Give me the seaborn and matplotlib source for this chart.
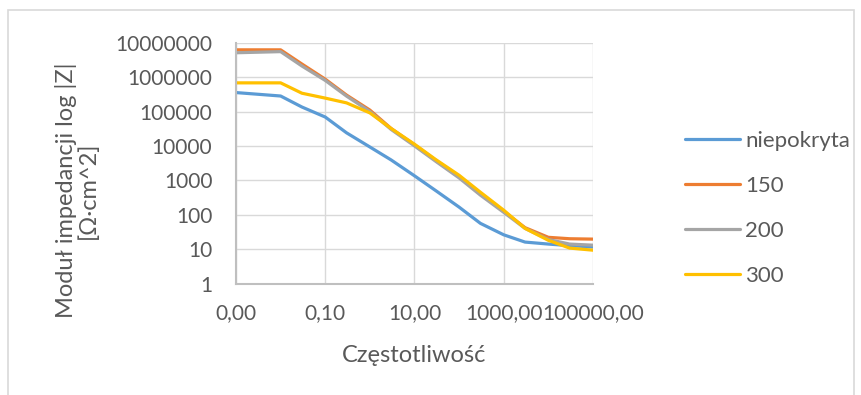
import matplotlib
matplotlib.use("Agg")
import matplotlib.pyplot as plt
from matplotlib.patches import Rectangle
from matplotlib.ticker import FixedLocator, FuncFormatter, NullLocator
import numpy as np
import pandas as pd
import seaborn as sns

# Impedance spectra: frequency [Hz] and |Z| [Ohm*cm^2] for each coating
freq = [0.001, 0.01, 0.03, 0.1, 0.3, 1, 3, 10, 30, 100, 300, 1000, 3000,
        10000, 30000, 100000]
z_niepokryta = [355000, 282000, 135000, 69000, 24000, 9300, 3900, 1350, 500,
                166, 56, 26, 16, 14, 12.6, 11.5]
z_150 = [6200000, 6200000, 2400000, 870000, 300000, 110000, 32000, 10700,
         3800, 1260, 400, 126, 42, 22, 20, 19.5]
z_200 = [5100000, 5500000, 2100000, 800000, 280000, 100000, 30000, 10000,
         3550, 1170, 370, 117, 40, 19, 14, 13]
z_300 = [680000, 680000, 340000, 245000, 178000, 91000, 32000, 11200, 4000,
         1400, 450, 135, 40, 18, 10.7, 9.3]

series_names = ["niepokryta", "150", "200", "300"]
series_values = [z_niepokryta, z_150, z_200, z_300]
colors = ["#5B9BD5", "#ED7D31", "#A5A5A5", "#FFC000"]

x_ticks = [0.001, 0.1, 10, 1000, 100000]
y_ticks = [1, 10, 100, 1000, 10000, 100000, 1000000, 10000000]

df = pd.concat(
    [pd.DataFrame({"f": freq, "z": vals, "seria": name})
     for name, vals in zip(series_names, series_values)],
    ignore_index=True,
)

sns.set_style("white")
plt.rcParams["font.family"] = ["Lato", "DejaVu Sans"]
text_color = "#595959"
tick_fs = 15
title_fs = 17
legend_fs = 16

fig = plt.figure(figsize=(8.62, 3.95), dpi=100)
ax = fig.add_axes([236 / 862, 1 - 283.5 / 395, (593 - 236) / 862,
                   (283.5 - 42.7) / 395])

# outer chart frame
fig.patches.append(Rectangle((8 / 862, -0.05), (854 - 8) / 862, 1 - 10 / 395 + 0.05,
                             transform=fig.transFigure, fill=False,
                             edgecolor="#d9d9d9", linewidth=1.2, zorder=0))

sns.lineplot(data=df, x="f", y="z", hue="seria", palette=colors,
             hue_order=series_names, linewidth=2.3, ax=ax, legend=False,
             sort=False)

ax.set_xscale("log")
ax.set_yscale("log")
ax.set_xlim(0.001, 100000)
ax.set_ylim(1, 10000000)

ax.xaxis.set_major_locator(FixedLocator(x_ticks))
ax.xaxis.set_minor_locator(NullLocator())
ax.yaxis.set_major_locator(FixedLocator(y_ticks))
ax.yaxis.set_minor_locator(NullLocator())
ax.xaxis.set_major_formatter(FuncFormatter(lambda v, p: f"{v:.2f}".replace(".", ",")))
ax.yaxis.set_major_formatter(FuncFormatter(lambda v, p: f"{int(round(v))}"))

ax.grid(True, which="major", color="#d9d9d9", linewidth=1.0)
ax.set_axisbelow(True)
for side in ["top", "right"]:
    ax.spines[side].set_visible(False)
for side in ["left", "bottom"]:
    ax.spines[side].set_color("#bfbfbf")
    ax.spines[side].set_linewidth(1.5)

ax.tick_params(axis="both", length=0, labelsize=tick_fs, colors=text_color)
ax.tick_params(axis="y", pad=17)
ax.tick_params(axis="x", pad=14)
ax.set_xlabel("")
ax.set_ylabel("")

fig.text(77 / 862, 1 - 190 / 395, "Moduł impedancji log |Z|\n[Ω·cm^2]",
         rotation=90, ha="center", va="center", fontsize=title_fs,
         color=text_color, linespacing=1.05)
fig.text(414 / 862, 1 - 355 / 395, "Częstotliwość", ha="center",
         va="center", fontsize=title_fs, color=text_color)

handles = [plt.Line2D([], [], color=c, linewidth=2.3) for c in colors]
leg = fig.legend(handles, series_names, loc="upper left",
                 bbox_to_anchor=(676 / 862, 1 - 122 / 395), frameon=False,
                 fontsize=legend_fs, handlelength=2.48, handletextpad=0.23,
                 labelspacing=1.13, borderaxespad=0)
for t in leg.get_texts():
    t.set_color(text_color)

fig.savefig("out.png", dpi=100)
